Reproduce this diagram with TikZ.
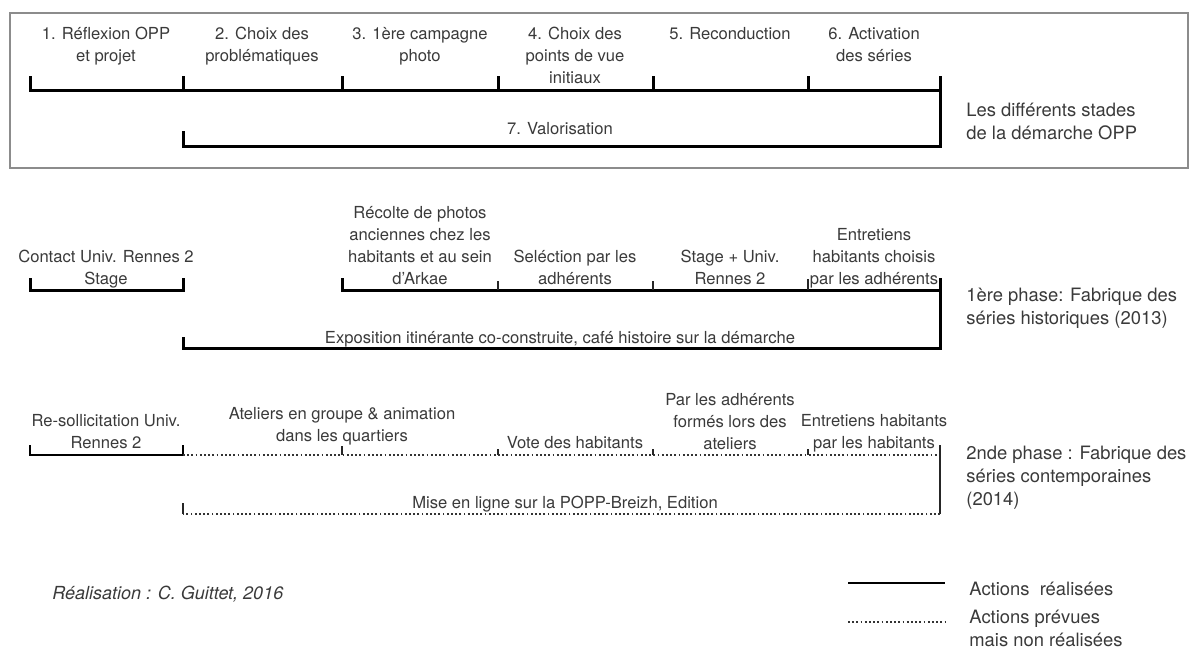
\documentclass[tikz,border=0pt]{standalone}
\usepackage{fontspec}
\setmainfont{TeX Gyre Heros}
\usepackage{tikz}
\usetikzlibrary{positioning}
\definecolor{inkgray}{HTML}{3A3A3A}
\definecolor{framegray}{HTML}{8C8C8C}
\tikzset{
  done/.style={draw=black, line width=1.5pt},
  planned/.style={draw=black!80, line width=1pt, dash pattern=on 0.9pt off 1.2pt},
  tick/.style={draw=black!85, line width=1pt},
  stagelabel/.style={align=center, inner sep=0pt, text depth=0pt, text=inkgray, font=\fontsize{8.3}{11}\selectfont},
  phaselabel/.style={align=left, anchor=west, inner sep=0pt, text=inkgray, font=\fontsize{9.2}{11.5}\selectfont},
  creditlabel/.style={anchor=west, inner sep=0pt, text=inkgray, font=\fontsize{9}{10}\selectfont\itshape}
}

\begin{document}
\begin{tikzpicture}[x=0.5pt, y=-0.5pt]
  \useasboundingbox (0,0) rectangle (1190,653);

  \draw[framegray, line width=0.8pt] (10,13) rectangle (1188,168);

  \node[stagelabel, anchor=north] (st1) at (106,27) {1. Réflexion OPP\\et projet};
  \node[stagelabel, anchor=north] (st2) at (262,27) {2. Choix des\\problématiques};
  \node[stagelabel, anchor=north] (st3) at (420,27) {3. 1ère campagne\\photo};
  \node[stagelabel, anchor=north] (st4) at (575,27) {4. Choix des\\points de vue\\initiaux};
  \node[stagelabel, anchor=north] (st5) at (730,27) {5. Reconduction};
  \node[stagelabel, anchor=north] (st6) at (874,27) {6. Activation\\des séries};

  \coordinate (s0) at (30,90);
  \coordinate (s1) at (183,90);
  \coordinate (s2) at (342,90);
  \coordinate (s3) at (498,90);
  \coordinate (s4) at (653,90);
  \coordinate (s5) at (808,90);
  \coordinate (s6) at (940,90);
  \coordinate (v1) at (183,146);
  \coordinate (v6) at (940,146);

  \draw[done] (s0) ++(0,-14) -- (s0) -- (s6);
  \draw[done] (s6) ++(0,-14) -- (v6) -- (v1) -- ++(0,-15);
  \foreach \i in {1,...,5}
    \draw[done] (s\i) -- ++(0,-14);

  \node[stagelabel] (valo) at (560,128) {7. Valorisation};
  \node[phaselabel] (stades) at (966,121) {Les différents stades\\de la démarche OPP};

  \node[stagelabel, anchor=south] (p1a) at (106,285) {Contact Univ. Rennes 2\\Stage};
  \node[stagelabel, anchor=south] (p1b) at (420,285) {Récolte de photos\\anciennes chez les\\habitants et au sein\\d'Arkae};
  \node[stagelabel, anchor=south] (p1c) at (575,285) {Seléction par les\\adhérents};
  \node[stagelabel, anchor=south] (p1d) at (730,285) {Stage + Univ.\\Rennes 2};
  \node[stagelabel, anchor=south] (p1e) at (874,285) {Entretiens\\habitants choisis\\par les adhérents};

  \coordinate (h0) at (30,290);
  \coordinate (h1) at (183,290);
  \coordinate (h2) at (342,290);
  \coordinate (h3) at (498,290);
  \coordinate (h4) at (653,290);
  \coordinate (h5) at (808,290);
  \coordinate (h6) at (940,290);
  \coordinate (e1) at (183,348);
  \coordinate (e6) at (940,348);

  \draw[done] (h0) ++(0,-12) -- (h0) -- (h1) -- ++(0,-12);
  \draw[done] (h2) ++(0,-12) -- (h2) -- (h6);
  \draw[done] (h6) ++(0,-12) -- (e6) -- (e1) -- ++(0,-11);
  \draw[tick] (h3) -- ++(0,-9);
  \draw[tick] (h4) -- ++(0,-9);
  \draw[tick] (h5) -- ++(0,-11);

  \node[stagelabel] (expo) at (560,337) {Exposition itinérante co-construite, café histoire sur la démarche};
  \node[phaselabel] (phase1) at (966,308) {1ère phase: Fabrique des\\séries historiques (2013)};

  \node[stagelabel, anchor=south] (p2a) at (106,449) {Re-sollicitation Univ.\\Rennes 2};
  \node[stagelabel, anchor=south] (p2b) at (342,442) {Ateliers en groupe \& animation\\dans les quartiers};
  \node[stagelabel, anchor=south] (p2c) at (575,449) {Vote des habitants};
  \node[stagelabel, anchor=south] (p2d) at (730,450) {Par les adhérents\\formés lors des\\ateliers};
  \node[stagelabel, anchor=south] (p2e) at (874,449) {Entretiens habitants\\par les habitants};

  \coordinate (g0) at (30,455);
  \coordinate (g1) at (183,455);
  \coordinate (g2) at (342,455);
  \coordinate (g3) at (498,455);
  \coordinate (g4) at (653,455);
  \coordinate (g5) at (808,455);
  \coordinate (g6) at (940,455);
  \coordinate (m1) at (183,514);
  \coordinate (m6) at (940,514);

  \draw[done, line width=1.2pt] (g0) ++(0,-10) -- (g0) -- (g1) -- ++(0,-10);
  \draw[planned] (g1) -- (g6);
  \draw[tick, line width=1.2pt] (g6) ++(0,-10) -- (m6);
  \draw[planned] (m6) -- (m1);
  \draw[tick] (m1) -- ++(0,-11);
  \draw[tick] (g2) -- ++(0,-9);
  \foreach \i in {3,4,5}
    \draw[tick] (g\i) -- ++(0,-6);

  \node[stagelabel] (popp) at (565,502) {Mise en ligne sur la POPP-Breizh, Edition};
  \node[phaselabel] (phase2) at (966,478) {2nde phase : Fabrique des\\séries contemporaines\\(2014)};

  \node[creditlabel] (credit) at (52,594) {Réalisation : C. Guittet, 2016};

  \coordinate (l1a) at (848,583);
  \coordinate (l1b) at (945,583);
  \coordinate (l2a) at (848,622);
  \coordinate (l2b) at (945,622);
  \draw[done, line width=1.1pt] (l1a) -- (l1b);
  \draw[planned] (l2a) -- (l2b);
  \node[phaselabel, right=12pt of l1b, yshift=-3pt] (leg1) {Actions\ \ réalisées};
  \node[phaselabel, right=12pt of l2b, yshift=-3pt] (leg2) {Actions prévues\\mais non réalisées};
\end{tikzpicture}
\end{document}
